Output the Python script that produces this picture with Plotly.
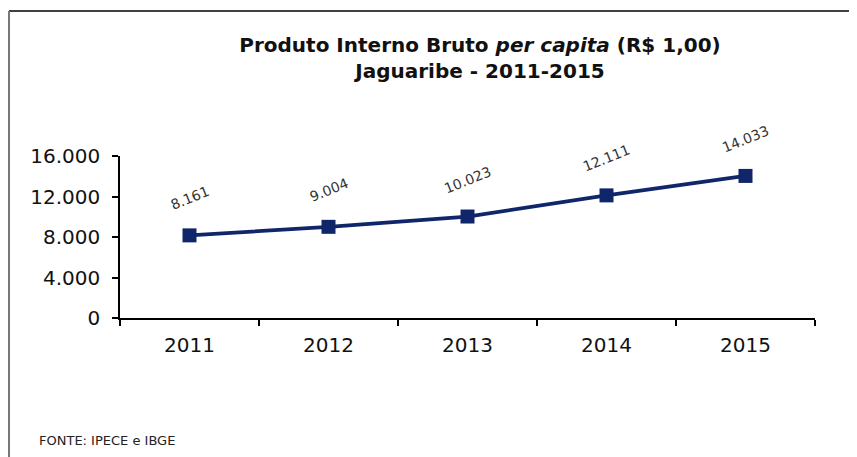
import plotly.graph_objects as go

years = ["2011", "2012", "2013", "2014", "2015"]
pib = [8161, 9004, 10023, 12111, 14033]
labels = ["8.161", "9.004", "10.023", "12.111", "14.033"]
y_ticks = [0, 4000, 8000, 12000, 16000]
y_ticktext = ["0", "4.000", "8.000", "12.000", "16.000"]

OFF = 8  # page body margin in the rendered screenshot
W, H = 857, 457
L, T = 120 - OFF, 156 - OFF
pw, ph = 695, 162
R = W - L - pw
B = H - T - ph

def px_x(p):
    return (p - OFF - L) / pw

def px_y(p):
    return (T + ph - (p - OFF)) / ph

FONT = "DejaVu Sans, Verdana, sans-serif"
NAVY = "#10266b"

fig = go.Figure()
fig.add_trace(go.Scatter(
    x=list(range(len(years))), y=pib, mode="lines+markers",
    line=dict(color=NAVY, width=3.8),
    marker=dict(symbol="square", size=14, color=NAVY),
    hoverinfo="skip", showlegend=False,
))

for i, (v, t) in enumerate(zip(pib, labels)):
    fig.add_annotation(x=i, y=v, text=t, showarrow=False, textangle=-22,
                       yshift=37, font=dict(family=FONT, size=14, color="#333333"))

fig.add_annotation(xref="paper", yref="paper", x=px_x(37), y=px_y(440),
                   xanchor="left", yanchor="middle", showarrow=False,
                   text="FONTE: IPECE e IBGE",
                   font=dict(family=FONT, size=13, color="#222222"))

# outer frame lines (top and left)
fig.add_shape(type="line", xref="paper", yref="paper",
              x0=px_x(9), x1=px_x(870), y0=px_y(11), y1=px_y(11),
              line=dict(color="black", width=1.5))
fig.add_shape(type="line", xref="paper", yref="paper",
              x0=px_x(9), x1=px_x(9), y0=px_y(11), y1=px_y(470),
              line=dict(color="#777777", width=2))

fig.update_layout(
    width=W, height=H,
    margin=dict(l=L, r=R, t=T, b=B),
    paper_bgcolor="white", plot_bgcolor="white",
    title=dict(
        text="<b>Produto Interno Bruto <i>per capita</i> (R$ 1,00)<br>Jaguaribe - 2011-2015</b>",
        x=(480 - OFF) / W, xanchor="center", xref="container",
        y=1 - (52 - OFF) / H, yanchor="top", yref="container",
        font=dict(family=FONT, size=20, color="#111111"),
    ),
    xaxis=dict(
        tickmode="array", tickvals=list(range(len(years))), ticktext=years,
        ticks="", showgrid=False, zeroline=False,
        showline=True, linecolor="black", linewidth=1.5,
        minor=dict(tickvals=[-0.5, 0.5, 1.5, 2.5, 3.5, 4.5], ticks="outside",
                   ticklen=6, tickcolor="black", tickwidth=1.5, showgrid=False),
        tickfont=dict(family=FONT, size=20, color="#111111"),
        ticklabelstandoff=8,
        range=[-0.5, 4.5],
    ),
    yaxis=dict(
        range=[0, 16000], tickvals=y_ticks, ticktext=y_ticktext,
        ticks="outside", ticklen=6, tickcolor="black", tickwidth=1.5,
        showline=True, linecolor="black", linewidth=1.5,
        showgrid=False, zeroline=False,
        tickfont=dict(family=FONT, size=20, color="#111111"),
        ticklabelstandoff=8,
    ),
)

fig.write_html("out.html")
